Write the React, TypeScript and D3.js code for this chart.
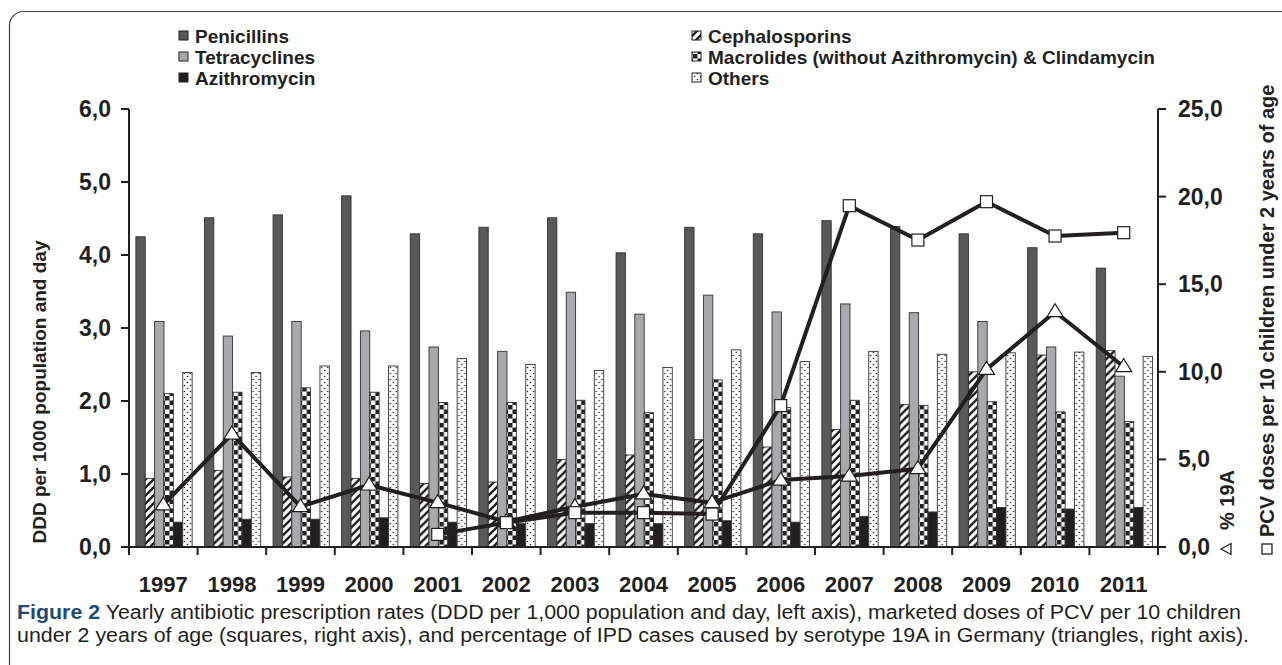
import React from 'react';
import { scaleBand, scaleLinear, line } from 'd3';

const years = ['1997', '1998', '1999', '2000', '2001', '2002', '2003', '2004', '2005', '2006', '2007', '2008', '2009', '2010', '2011'];
const penicillins = [4.25, 4.51, 4.55, 4.81, 4.29, 4.38, 4.51, 4.03, 4.38, 4.29, 4.47, 4.39, 4.29, 4.10, 3.82];
const cephalosporins = [0.94, 1.05, 0.96, 0.94, 0.87, 0.89, 1.20, 1.26, 1.47, 1.37, 1.61, 1.95, 2.40, 2.63, 2.69];
const tetracyclines = [3.09, 2.89, 3.09, 2.96, 2.74, 2.68, 3.49, 3.19, 3.45, 3.22, 3.33, 3.21, 3.09, 2.74, 2.34];
const macrolides = [2.10, 2.12, 2.18, 2.12, 1.98, 1.98, 2.01, 1.84, 2.29, 1.91, 2.01, 1.94, 1.99, 1.85, 1.72];
const azithromycin = [0.34, 0.38, 0.38, 0.40, 0.34, 0.32, 0.32, 0.32, 0.36, 0.34, 0.42, 0.48, 0.54, 0.52, 0.54];
const others = [2.39, 2.39, 2.48, 2.48, 2.58, 2.50, 2.42, 2.46, 2.70, 2.54, 2.68, 2.64, 2.66, 2.67, 2.61];
// right axis series
const pcvDoses = [null, null, null, null, 0.72, 1.39, 1.96, 1.96, 1.88, 8.07, 19.48, 17.52, 19.71, 17.75, 17.94];
const pct19A = [2.40, 6.45, 2.30, 3.54, 2.53, 1.45, 2.30, 3.03, 2.53, 3.82, 4.05, 4.47, 10.14, 13.43, 10.29];

const leftTicks = [0, 1, 2, 3, 4, 5, 6];
const rightTicks = [0, 5, 10, 15, 20, 25];

const W = 1282;
const H = 665;
const plotLeft = 129;
const plotRight = 1158;
const plotTop = 109;
const plotBottom = 547;
const ink = '#231f20';
const font = "'Liberation Sans', Arial, sans-serif";

const series = [
    { key: 'pen', name: 'Penicillins', values: penicillins, fill: '#58595b' },
    { key: 'ceph', name: 'Cephalosporins', values: cephalosporins, fill: 'url(#hatch)' },
    { key: 'tet', name: 'Tetracyclines', values: tetracyclines, fill: '#a7a9ac' },
    { key: 'mac', name: 'Macrolides (without Azithromycin) & Clindamycin', values: macrolides, fill: 'url(#checker)' },
    { key: 'azi', name: 'Azithromycin', values: azithromycin, fill: ink },
    { key: 'oth', name: 'Others', values: others, fill: 'url(#dots)' },
];
// legend: left column then right column
const legendLeft = ['pen', 'tet', 'azi'];
const legendRight = ['ceph', 'mac', 'oth'];

const fmt = (v: number) => v.toFixed(1).replace('.', ',');

const App = () => {
    const x = scaleBand<string>().domain(years).range([plotLeft, plotRight]);
    const bw = x.bandwidth();
    const inner = scaleBand<string>().domain(series.map(s => s.key)).range([bw * 0.1, bw * 0.92]);
    const yL = scaleLinear().domain([0, 6]).range([plotBottom, plotTop]);
    const yR = scaleLinear().domain([0, 25]).range([plotBottom, plotTop]);
    const cx = (y: string) => (x(y) as number) + bw / 2;

    const pcvPts = years.map((y, i) => [cx(y), pcvDoses[i]] as [number, number | null]);
    const triPts = years.map((y, i) => [cx(y), pct19A[i]] as [number, number | null]);
    const mkLine = line<[number, number | null]>()
        .defined(d => d[1] != null)
        .x(d => d[0])
        .y(d => yR(d[1] as number));

    const legendRow = (keys: string[], x0: number) => keys.map((k, i) => {
        const s = series.find(d => d.key === k)!;
        const cy = 36 + i * 21;
        return (
            <g key={k}>
                <rect x={x0} y={cy - 5} width={9} height={9} fill={s.fill} stroke={ink} strokeWidth={1} />
                <text x={x0 + 16} y={cy + 6.5} fontSize={19} fontWeight="bold" fontFamily={font} fill={ink}>{s.name}</text>
            </g>
        );
    });

    return (
        <svg width={W} height={H} style={{ position: 'absolute', left: 0, top: 0, background: '#fff' }}>
            <defs>
                <pattern id="hatch" patternUnits="userSpaceOnUse" width={8} height={8}>
                    <rect width={8} height={8} fill="#fff" />
                    <path d="M-2,10 L10,-2 M-2,2 L2,-2 M6,10 L10,6" stroke={ink} strokeWidth={2.4} />
                </pattern>
                <pattern id="checker" patternUnits="userSpaceOnUse" width={9} height={9}>
                    <rect width={9} height={9} fill="#fff" />
                    <rect x={0} y={0} width={4.5} height={4.5} fill={ink} />
                    <rect x={4.5} y={4.5} width={4.5} height={4.5} fill={ink} />
                </pattern>
                <pattern id="dots" patternUnits="userSpaceOnUse" width={6} height={6}>
                    <rect width={6} height={6} fill="#fff" />
                    <circle cx={1.5} cy={1.5} r={0.8} fill={ink} />
                    <circle cx={4.5} cy={4.5} r={0.8} fill={ink} />
                </pattern>
            </defs>

            <rect x={9.5} y={11.5} width={1300} height={720} rx={14} fill="none" stroke="#444" strokeWidth={1.2} />

            {legendRow(legendLeft, 179)}
            {legendRow(legendRight, 692)}

            {/* bars */}
            {years.map((yr, i) => (
                <g key={yr} transform={`translate(${x(yr)},0)`}>
                    {series.map(s => (
                        <rect
                            key={s.key}
                            x={inner(s.key)}
                            y={yL(s.values[i])}
                            width={inner.bandwidth()}
                            height={plotBottom - yL(s.values[i])}
                            fill={s.fill}
                            stroke="#333"
                            strokeWidth={0.9}
                        />
                    ))}
                </g>
            ))}

            {/* lines and markers */}
            <path d={mkLine(pcvPts) || ''} fill="none" stroke={ink} strokeWidth={4} strokeLinejoin="round" />
            <path d={mkLine(triPts) || ''} fill="none" stroke={ink} strokeWidth={4} strokeLinejoin="round" />
            {triPts.map((p, i) => {
                const px = p[0];
                const py = yR(p[1] as number);
                return <path key={'t' + i} d={`M${px},${py - 8} L${px + 8},${py + 5} L${px - 8},${py + 5} Z`} fill="#fff" stroke={ink} strokeWidth={1.2} />;
            })}
            {pcvPts.filter(p => p[1] != null).map((p, i) => (
                <rect key={'s' + i} x={p[0] - 6} y={yR(p[1] as number) - 6} width={12} height={12} fill="#fff" stroke={ink} strokeWidth={1.2} />
            ))}

            {/* axes */}
            <line x1={plotLeft} x2={plotLeft} y1={plotTop} y2={plotBottom} stroke={ink} strokeWidth={2} />
            <line x1={plotRight} x2={plotRight} y1={plotTop} y2={plotBottom} stroke={ink} strokeWidth={2} />
            <line x1={plotLeft} x2={plotRight} y1={plotBottom} y2={plotBottom} stroke={ink} strokeWidth={2} />
            {leftTicks.map(t => (
                <g key={'l' + t}>
                    <line x1={plotLeft - 8} x2={plotLeft} y1={yL(t)} y2={yL(t)} stroke={ink} strokeWidth={2} />
                    <text x={111} y={yL(t) + 8} textAnchor="end" fontSize={23} fontWeight="bold" fontFamily={font} fill={ink}>{fmt(t)}</text>
                </g>
            ))}
            {rightTicks.map(t => (
                <g key={'r' + t}>
                    <line x1={plotRight} x2={plotRight + 8} y1={yR(t)} y2={yR(t)} stroke={ink} strokeWidth={2} />
                    <text x={1178} y={yR(t) + 8} fontSize={23} fontWeight="bold" fontFamily={font} fill={ink}>{fmt(t)}</text>
                </g>
            ))}
            {[...years.map(y => x(y) as number), plotRight].map((v, i) => (
                <line key={'xt' + i} x1={v} x2={v} y1={plotBottom} y2={plotBottom + 8} stroke={ink} strokeWidth={2} />
            ))}
            {years.map(y => (
                <text key={'xl' + y} x={cx(y)} y={592} textAnchor="middle" fontSize={22} fontWeight="bold" fontFamily={font} fill={ink}>{y}</text>
            ))}

            {/* axis titles */}
            <text transform="translate(46,392) rotate(-90)" textAnchor="middle" fontSize={19} fontWeight="bold" fontFamily={font} fill={ink}>DDD per 1000 population and day</text>
            <path d="M1221,549 L1231,543.5 L1231,554.5 Z" fill="#fff" stroke={ink} strokeWidth={1.3} />
            <text transform="translate(1234,530) rotate(-90)" fontSize={20} fontWeight="bold" fontFamily={font} fill={ink}>% 19A</text>
            <rect x={1262} y={544} width={10} height={10} fill="#fff" stroke={ink} strokeWidth={1.3} />
            <text transform="translate(1274,537) rotate(-90)" fontSize={20} fontWeight="bold" fontFamily={font} fill={ink}>PCV doses per 10 children under 2 years of age</text>

            {/* caption */}
            <text x={17} y={619} fontSize={20} fontFamily={font} fill={ink} textLength={1224} lengthAdjust="spacingAndGlyphs">
                <tspan fontWeight="bold" fill="#1e4a78">Figure 2</tspan> Yearly antibiotic prescription rates (DDD per 1,000 population and day, left axis), marketed doses of PCV per 10 children
            </text>
            <text x={17} y={642} fontSize={20} fontFamily={font} fill={ink} textLength={1232} lengthAdjust="spacingAndGlyphs">
                under 2 years of age (squares, right axis), and percentage of IPD cases caused by serotype 19A in Germany (triangles, right axis).
            </text>
        </svg>
    );
};

export default App;
